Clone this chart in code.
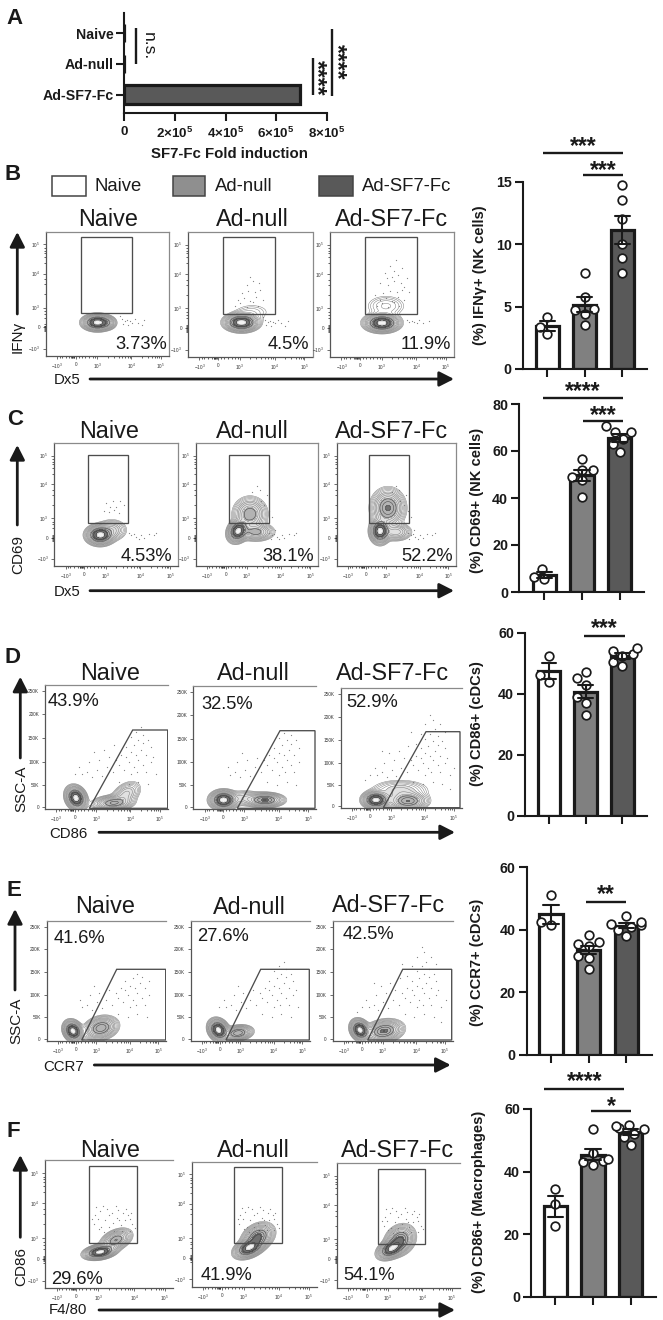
import numpy as np, pandas as pd, seaborn as sns
import matplotlib
matplotlib.use("Agg")
import matplotlib.pyplot as plt
from matplotlib.patches import Rectangle, Polygon
from matplotlib.ticker import FixedLocator

W, H = 663, 1320
GROUPS = ["Naive", "Ad-null", "Ad-SF7-Fc"]
FILLS = ["#ffffff", "#808080", "#595959"]

# Panel A
A_VALUES = [0, 0, 695000]
A_XTICKS = [0, 200000, 400000, 600000, 800000]
A_XLABELS = ["0", "2×10$^{\\mathbf{5}}$", "4×10$^{\\mathbf{5}}$", "6×10$^{\\mathbf{5}}$", "8×10$^{\\mathbf{5}}$"]

# Replicates in the bar panels
B_N, B_N2, B_S = [2.8, 3.4, 4.2], [3.5, 4.4, 4.7, 4.8, 5.8, 7.7], [7.7, 8.9, 10.0, 12.0, 13.5, 14.7]
C_N, C_N2, C_S = [5.5, 6.5, 9.8], [40.5, 47.5, 49, 52, 52, 56.5], [59.5, 63, 65, 68, 68, 70.5]
D_N, D_N2, D_S = [44, 46, 52.5], [33, 37, 39, 43, 45, 47], [49, 50.5, 52.5, 53, 54, 55]
E_N, E_N2, E_S = [41.5, 42.5, 51], [27.5, 31, 31.5, 35, 35.5, 36, 38.5], [38, 40, 41, 41.5, 42, 42.5, 44.5]
F_N, F_N2, F_S = [22.5, 29.5, 34.5], [42, 43, 43.5, 44, 46, 53.5], [48.5, 51, 52, 53.5, 54, 54.5, 55]

Y_LABELS = ["(%) IFNγ+ (NK cells)", "(%) CD69+ (NK cells)", "(%) CD86+ (cDCs)", "(%) CCR7+ (cDCs)", "(%) CD86+ (Macrophages)"]
PCT_B = ["3.73%", "4.5%", "11.9%"]
PCT_C = ["4.53%", "38.1%", "52.2%"]
PCT_D = ["43.9%", "32.5%", "52.9%"]
PCT_E = ["41.6%", "27.6%", "42.5%"]
PCT_F = ["29.6%", "41.9%", "54.1%"]

# Flow populations: centre x, centre y, sd x, sd y, correlation, weight (page pixels)
BLOBS_B = [[(97.5, 322.5, 6.6, 3.6, 0, 1), (108, 323, 4, 3, 0, .15)],
           [(241.5, 322.5, 7.6, 4, 0, 1), (252, 312, 11, 5, 0, .05)],
           [(382, 323, 7.8, 4, 0, 1), (386, 306, 11, 6, 0, .08)]]
BLOBS_C = [[(100, 535, 6.2, 4.4, 0, 1), (112, 530, 7, 5, 0, .2)],
           [(238, 531, 4.6, 5, -.2, 1), (250, 514, 7.5, 7.5, 0, .45), (256, 532, 8, 4, 0, .4)],
           [(380, 531, 4.4, 5.5, 0, 1), (388, 508, 7.5, 8.5, 0, .6), (396, 532, 7, 4, 0, .3)]]
BLOBS_D = [[(76, 798, 4.6, 5.2, .2, 1), (113, 803, 9, 3.4, -.1, .45), (126, 794, 7, 6, -.4, .2)],
           [(223.5, 800, 6, 4.2, 0, 1), (265, 800, 8.5, 3.2, 0, .6), (245, 798, 8, 4, 0, .12)],
           [(376, 800, 6, 3.8, 0, 1), (408, 801, 9, 4.2, 0, .55), (400, 790, 14, 5, 0, .15)]]
BLOBS_E = [[(73, 1031, 4.2, 4.6, .2, 1), (101, 1028, 7.5, 5.2, -.2, .55)],
           [(218.5, 1030, 4.5, 4.8, .2, 1), (238, 1033, 6.5, 3.4, -.2, .55)],
           [(360, 1030, 4.2, 4.6, .2, 1), (384, 1031, 8.5, 5, -.2, .6)]]
BLOBS_F = [[(100, 1252, 7, 3.2, -.3, 1), (116, 1240, 7, 5, -.4, .45)],
           [(249, 1248, 6.5, 4.5, -.4, 1), (258, 1237, 7, 6, -.3, .7)],
           [(391, 1249, 6, 4.5, -.4, 1), (400, 1240, 6.5, 6.5, -.2, .75)]]

# Sparse events as fractions of each gate plot
NK_TAIL = [(.62, .70), (.64, .72), (.66, .71), (.68, .72), (.70, .73), (.72, .70), (.75, .73), (.80, .71),
           (.63, .74), (.67, .75), (.60, .68), (.78, .75)]
NK_UP = [(.38, .59), (.42, .57), (.47, .60), (.52, .56), (.56, .59), (.40, .54), (.45, .53), (.50, .55),
         (.55, .52), (.60, .54), (.43, .49), (.48, .47), (.54, .48), (.58, .46), (.47, .42), (.52, .39),
         (.57, .41), (.50, .36), (.40, .41), (.60, .44), (.46, .37), (.55, .34), (.62, .37), (.52, .31),
         (.48, .27), (.58, .29), (.53, .22), (.44, .33), (.64, .48), (.36, .50)]
CD_TAIL = [(.60, .73), (.62, .75), (.64, .74), (.66, .76), (.68, .78), (.70, .75), (.72, .77), (.76, .74),
           (.80, .75), (.82, .73), (.61, .78), (.65, .71)]
CD_UP = [(.40, .55), (.44, .56), (.48, .54), (.52, .57), (.45, .52), (.50, .52), (.42, .49), (.47, .47),
         (.53, .47), (.56, .50), (.60, .55), (.46, .40), (.52, .38), (.58, .42), (.50, .35), (.62, .60)]
DIAG = [(.30, .72), (.34, .70), (.38, .74), (.42, .68), (.46, .73), (.50, .66), (.55, .70), (.60, .64),
        (.64, .68), (.68, .62), (.72, .66), (.76, .60), (.80, .64), (.70, .72), (.75, .70), (.82, .70),
        (.58, .60), (.62, .56), (.66, .58), (.70, .54), (.74, .56), (.78, .52), (.82, .56), (.86, .62),
        (.28, .66), (.36, .62), (.44, .60), (.52, .58), (.40, .54), (.60, .78), (.68, .80), (.76, .78),
        (.84, .80), (.72, .48), (.76, .44), (.80, .47), (.66, .50), (.86, .50), (.74, .38), (.80, .40),
        (.70, .42), (.84, .44), (.78, .34), (.88, .58), (.90, .72), (.24, .72), (.48, .52), (.56, .48),
        (.34, .52), (.20, .76), (.62, .46), (.90, .84), (.94, .66), (.70, .30), (.58, .36), (.82, .30),
        (.76, .26), (.66, .38), (.86, .36), (.74, .22)]
TOP = [(.38, .50), (.41, .46), (.44, .52), (.47, .47), (.50, .43), (.53, .49), (.56, .45), (.59, .51),
       (.62, .47), (.65, .43), (.68, .50), (.39, .43), (.43, .40), (.48, .38), (.52, .41), (.57, .39),
       (.61, .41), (.66, .46), (.42, .54), (.46, .56), (.60, .55), (.66, .55), (.70, .53), (.40, .37),
       (.45, .36), (.55, .36), (.63, .38), (.37, .46), (.50, .52), (.54, .55), (.67, .41), (.58, .47)]

BIEX_X = [.092, .243, .416, .695, .935]
BIEX_Y = [.10, .335, .609, .77, .94]
SCALE_Y = [.05, .237, .427, .619, .805, .984]
BIEX_XL = ["$-10^{3}$", "0", "$10^{3}$", "$10^{4}$", "$10^{5}$"]
BIEX_YL = ["$10^{5}$", "$10^{4}$", "$10^{3}$", "0", "$-10^{3}$"]
SCALE_YL = ["250K", "200K", "150K", "100K", "50K", "0"]

sns.set_theme(style="ticks")
plt.rcParams["font.family"] = ["Liberation Sans", "DejaVu Sans"]
plt.rcParams.update({"mathtext.fontset": "custom", "mathtext.rm": "Liberation Sans",
                     "mathtext.bf": "Liberation Sans:bold", "mathtext.it": "Liberation Sans:italic",
                     "axes.linewidth": 1.5, "axes.edgecolor": "#1a1a1a",
                     "xtick.color": "#1a1a1a", "ytick.color": "#1a1a1a", "text.color": "#1a1a1a"})
INK = "#1a1a1a"
fig = plt.figure(figsize=(W / 100, H / 100), dpi=100)


def ax_px(x0, y0, x1, y1, **kw):
    return fig.add_axes([x0 / W, 1 - y1 / H, (x1 - x0) / W, (y1 - y0) / H], **kw)


ov = ax_px(0, 0, W, H, zorder=20)
ov.set_xlim(0, W)
ov.set_ylim(H, 0)
ov.axis("off")
ov.patch.set_alpha(0)


def T(x, y, s, size=10, weight="normal", ha="left", va="baseline", rot=0):
    ov.text(x, y, s, fontsize=size, fontweight=weight, ha=ha, va=va, rotation=rot,
            rotation_mode="anchor", color=INK)


def L(x0, y0, x1, y1, lw=1.7):
    ov.plot([x0, x1], [y0, y1], color=INK, lw=lw, solid_capstyle="butt")


def arrow(x0, y0, x1, y1):
    ov.annotate("", xy=(x1, y1), xytext=(x0, y0),
                arrowprops=dict(arrowstyle="-|>,head_length=0.55,head_width=0.28", color=INK, lw=2,
                                shrinkA=0, shrinkB=0, mutation_scale=16))


def stars(cx, cy, s):
    T(cx, cy + 9.5, s, size=16.5, weight="bold", ha="center")


def bar_panel(rect, ticks_px, ymax, yticks, series, ylab, ylab_x, ylab_y):
    x0, ytop, x1, ybot = rect
    ax = ax_px(x0, ytop, x1, ybot)
    df = pd.DataFrame({"g": np.repeat(GROUPS, [len(s) for s in series]), "v": np.concatenate(series)})
    sns.barplot(data=df, x="g", y="v", hue="g", order=GROUPS, hue_order=GROUPS, palette=FILLS, dodge=False,
                legend=False, width=.62, errorbar="se", capsize=.4, edgecolor=INK, linewidth=2.3,
                saturation=1, err_kws={"linewidth": 1.5, "color": INK, "zorder": 6}, ax=ax)
    sns.swarmplot(data=df, x="g", y="v", order=GROUPS, color="white", edgecolor=INK, linewidth=1.25,
                  size=6.2, ax=ax, zorder=5, clip_on=False, warn_thresh=1)
    step = ticks_px[1] - ticks_px[0]
    ax.set_xlim((x0 - ticks_px[0]) / step, (x1 - ticks_px[0]) / step)
    ax.set_ylim(0, ymax)
    ax.set_yticks(yticks)
    ax.set_xticks([0, 1, 2])
    ax.set_xticklabels([])
    ax.set_xlabel("")
    ax.set_ylabel("")
    ax.tick_params(axis="y", length=6, width=1.5, pad=2, labelsize=10.3)
    ax.tick_params(axis="x", length=6, width=1.5)
    for t in ax.get_yticklabels():
        t.set_fontweight("bold")
    sns.despine(ax=ax)
    ax.patch.set_alpha(0)
    T(ylab_x, ylab_y, ylab, size=10.6, weight="bold", ha="center", va="center", rot=90)


def flow_panel(frame, blobs, gate, dots, pct, pct_xy, pct_ha, title, title_xy, scatter_axis, spines):
    x0, y0, x1, y1 = frame
    ax = ax_px(x0, y0, x1, y1, zorder=5)
    ax.set_xlim(x0, x1)
    ax.set_ylim(y1, y0)
    ax.patch.set_alpha(0)
    xx, yy = np.meshgrid(np.linspace(x0, x1, 320), np.linspace(y0, y1, 320))
    z = np.zeros_like(xx)
    for cx, cy, sx, sy, r, w in blobs:
        dx, dy = (xx - cx) / sx, (yy - cy) / sy
        z += w * np.exp(-(dx * dx - 2 * r * dx * dy + dy * dy) / (2 * (1 - r * r)))
    z /= z.max()
    ax.contourf(xx, yy, z, levels=[.10, .30, .55, .88, 1.01],
                colors=["#dcdcdc", "#a6a6a6", "#575757", "#f0f0f0"], alpha=.85)
    lv = np.geomspace(.022, .8, 13)
    ax.contour(xx, yy, z, levels=lv, colors=["#7a7a7a"] * 9 + ["#3a3a3a"] * 4, linewidths=.35)
    px = [x0 + a * (x1 - x0) for a, b in dots]
    py = [y0 + b * (y1 - y0) for a, b in dots]
    sns.scatterplot(x=px, y=py, s=.8, color="#333333", linewidth=0, alpha=.6, ax=ax, legend=False)
    ax.add_patch(Polygon(gate, closed=True, fill=False, edgecolor="#4d4d4d", lw=.95, zorder=4))
    ax.set_xlim(x0, x1)
    ax.set_ylim(y1, y0)
    w, h = x1 - x0, y1 - y0
    ax.set_xticks([x0 + f * w for f in BIEX_X])
    ax.set_xticklabels(BIEX_XL)
    ylabels = SCALE_YL if scatter_axis else BIEX_YL
    ax.set_yticks([y0 + f * h for f in (SCALE_Y if scatter_axis else BIEX_Y)])
    ax.set_yticklabels(ylabels)
    minorx = [.11, .13, .16, .19, .205, .21, .215, .22, .225, .23, .265, .29, .32, .35, .38, .40,
              .50, .55, .59, .62, .645, .665, .68, .78, .83, .865, .89, .905, .92]
    ax.xaxis.set_minor_locator(FixedLocator([x0 + f * w for f in minorx]))
    ax.tick_params(which="major", length=2, width=.5, pad=2.2, labelsize=3.4, color="#333333", labelcolor="#333333")
    ax.tick_params(which="minor", length=1.1, width=.5, color="#222222")
    if not scatter_axis:
        minory = [.745, .755, .762, .768, .775, .782, .79, .80, .69, .66, .64, .5, .42, .38, .25, .2, .17, .15, .13]
        ax.yaxis.set_minor_locator(FixedLocator([y0 + f * h for f in minory]))
    for side, sp in ax.spines.items():
        sp.set_visible(side in spines)
        sp.set_linewidth(.9)
        sp.set_color("#555555" if side in ("left", "bottom") else "#8a8a8a")
    T(pct_xy[0], pct_xy[1], pct, size=13.2, ha=pct_ha)
    T(title_xy[0], title_xy[1], title, size=16.8, ha="center")


def rect_gate(x0, y0, x1, y1):
    return [(x0, y0), (x1, y0), (x1, y1), (x0, y1)]


def diag_gate(xa, xb, xc, ytop, ybot):
    return [(xa, ybot), (xb, ytop), (xc, ytop), (xc, ybot)]


# ---------- Panel A ----------
axA = ax_px(124.3, 13, 326.7, 113.3)
sns.barplot(x=A_VALUES, y=GROUPS, order=GROUPS, color="#595959", saturation=1, orient="h", width=.6,
            edgecolor=INK, linewidth=2.3, errorbar=None, ax=axA)
axA.set_xlim(0, 800000)
axA.set_ylim(2.606, -.66)
axA.set_xticks(A_XTICKS)
axA.set_xticklabels(A_XLABELS, fontweight="bold", fontsize=9.6)
axA.tick_params(axis="y", length=6, width=1.5, pad=1.5, labelsize=10.2)
axA.tick_params(axis="x", length=6, width=1.5, pad=3)
for t in axA.get_yticklabels():
    t.set_fontweight("bold")
sns.despine(ax=axA)
T(229, 158, "SF7-Fc Fold induction", size=10.8, weight="bold", ha="center")
L(136.3, 27.7, 136.3, 64.3)
T(144, 46, "n.s.", size=12.5, ha="center", rot=-90)
L(312.7, 58.3, 312.7, 95)
L(332.3, 29.3, 332.3, 95.7)
T(309.7, 78, "****", size=16.5, weight="bold", ha="center", rot=-90)
T(330.3, 62, "****", size=16.5, weight="bold", ha="center", rot=-90)

# ---------- Legend ----------
for (bx0, bx1, tx), name, col in zip([(52, 86, 94.3), (172.5, 205, 215), (319, 353.3, 362.3)], GROUPS, FILLS):
    ov.add_patch(Rectangle((bx0, 175.7), bx1 - bx0, 20, facecolor=col if col != "#808080" else "#8f8f8f",
                           edgecolor="#444444", lw=1.1))
    T(tx, 191, name, size=13.3)

# ---------- Bar panels ----------
bar_panel((522.7, 181.7, 647, 369), (547.3, 584.7), 15, [0, 5, 10, 15], [B_N, B_N2, B_S], Y_LABELS[0], 480, 275)
bar_panel((519.3, 404, 644, 592), (544.3, 582), 80, [0, 20, 40, 60, 80], [C_N, C_N2, C_S], Y_LABELS[1], 477.5, 500)
bar_panel((525, 632.7, 646.7, 815.7), (549, 585.7), 60, [0, 20, 40, 60], [D_N, D_N2, D_S], Y_LABELS[2], 477.5, 724)
bar_panel((526.7, 867.3, 651.7, 1055), (551, 588.7), 60, [0, 20, 40, 60], [E_N, E_N2, E_S], Y_LABELS[3], 477.5, 962)
bar_panel((531, 1109, 655.7, 1296.7), (555.3, 593), 60, [0, 20, 40, 60], [F_N, F_N2, F_S], Y_LABELS[4], 479, 1202)

L(543, 153.3, 623, 153.3); stars(583.3, 143.3, "***")
L(583, 175, 623, 175); stars(603.3, 167.3, "***")
L(543.3, 398.3, 623, 398.3); stars(583, 388.3, "****")
L(583, 420.7, 623, 420.7); stars(603.3, 412.7, "***")
L(584.3, 636, 625, 636); stars(604.3, 626, "***")
L(586, 901.7, 626, 901.7); stars(606, 891.7, "**")
L(544.3, 1089.3, 624.3, 1089.3); stars(584.3, 1078.3, "****")
L(590.7, 1111.3, 631, 1111.3); stars(611, 1103.3, "*")

# ---------- Flow panels ----------
ALL4 = ("left", "bottom", "top", "right")
OPEN3 = ("left", "bottom", "top")
OPEN_F = ("left", "bottom", "top")

fr = [(46, 232, 169, 356), (188, 232, 312.5, 357), (330, 232, 454, 357)]
gt = [rect_gate(80.7, 236.7, 132, 313.3), rect_gate(223.3, 237.3, 274.7, 314.3), rect_gate(365, 237.3, 416.7, 314.3)]
dt = [NK_TAIL, NK_TAIL + NK_UP[:18], NK_TAIL[:8] + NK_UP]
px = [(166.7, 349), (309.5, 349), (450.5, 349)]
tx = [(108.5, 226.5), (252, 226.5), (392, 226.5)]
for i in range(3):
    flow_panel(fr[i], BLOBS_B[i], gt[i], dt[i], PCT_B[i], px[i], "right", GROUPS[i], tx[i], False, ALL4)

fr = [(54.3, 443.3, 178.3, 566), (196, 443.3, 318.3, 566), (336.7, 443.3, 456, 566)]
gt = [rect_gate(88, 455, 128, 523.3), rect_gate(229, 455, 268.7, 523.3), rect_gate(369.3, 455, 409.3, 523.3)]
dt = [CD_TAIL[:10] + CD_UP[:10], CD_TAIL + CD_UP[8:], CD_TAIL + CD_UP[8:]]
px = [(172.3, 560.7), (314.3, 560.7), (453.3, 560.7)]
tx = [(108.7, 438), (252.3, 438), (392, 438)]
for i in range(3):
    flow_panel(fr[i], BLOBS_C[i], gt[i], dt[i], PCT_C[i], px[i], "right", GROUPS[i], tx[i], False, ALL4)

fr = [(45, 685, 168, 809.3), (193.3, 686, 316, 809.3), (340.7, 688.3, 461.7, 808.3)]
gt = [diag_gate(89.3, 132.7, 167.7, 730, 808.3), diag_gate(237.3, 280, 315, 730.7, 808.3), diag_gate(383.3, 426, 460, 731.7, 807.7)]
dt = [DIAG[:48], DIAG[:42], DIAG]
px = [(47.7, 706), (201, 709), (346.7, 707)]
tx = [(110, 680), (253.3, 680), (393, 679.5)]
for i in range(3):
    flow_panel(fr[i], BLOBS_D[i], gt[i], dt[i], PCT_D[i], px[i], "left", GROUPS[i], tx[i], True, OPEN3)

fr = [(46.7, 920.7, 166, 1040.7), (190.7, 920.7, 310, 1040.7), (332.7, 920.7, 452.7, 1040.7)]
gt = [diag_gate(81.7, 116.7, 165.7, 969.3, 1040), diag_gate(226, 260.7, 309.3, 969.3, 1040), diag_gate(367.7, 402.7, 451.7, 969.3, 1040)]
dt = [DIAG[:38], DIAG[:46], DIAG]
px = [(54, 942.7), (196.7, 941), (342.3, 939.3)]
tx = [(105.3, 912.7), (249, 914), (388.3, 912.3)]
for i in range(3):
    flow_panel(fr[i], BLOBS_E[i], gt[i], dt[i], PCT_E[i], px[i], "left", GROUPS[i], tx[i], True, OPEN3)

fr = [(45, 1160, 173.3, 1288.3), (191.7, 1161.7, 316.7, 1286.7), (336.7, 1163.3, 460, 1287.7)]
gt = [rect_gate(88.7, 1166, 137.3, 1243.3), rect_gate(234.3, 1167.3, 281.7, 1242.7), rect_gate(378.3, 1169.3, 425.3, 1244)]
dt = [TOP, TOP, TOP]
px = [(51, 1284), (201, 1280), (343.3, 1280)]
tx = [(110, 1157), (253.3, 1157), (397.3, 1157)]
for i in range(3):
    flow_panel(fr[i], BLOBS_F[i], gt[i], dt[i], PCT_F[i], px[i], "left", GROUPS[i], tx[i], False, OPEN_F)

# ---------- Flow axis labels ----------
arrow(17.3, 314, 17.3, 232); T(22, 337, "IFNγ", size=11, ha="center", rot=90)
T(54, 384, "Dx5", size=10.8); arrow(90, 379, 454, 379)
arrow(17.3, 525, 17.3, 445); T(22, 554, "CD69", size=11, ha="center", rot=90)
T(54, 595.7, "Dx5", size=10.8); arrow(90, 590.7, 454, 590.7)
arrow(20.3, 758, 20.3, 676.7); T(25.5, 789, "SSC-A", size=11, ha="center", rot=90)
T(49, 837.7, "CD86", size=10.8); arrow(99, 832.3, 455, 832.3)
arrow(15, 990, 15, 909); T(20.5, 1021, "SSC-A", size=11, ha="center", rot=90)
T(43.3, 1070.7, "CCR7", size=10.8); arrow(94.3, 1065, 450.7, 1065)
arrow(20.3, 1237.3, 20.3, 1155); T(25.5, 1266.5, "CD86", size=11, ha="center", rot=90)
T(49, 1314, "F4/80", size=10.8); arrow(99, 1310, 455, 1310)

for s, x, y in [("A", 6, 24), ("B", 5, 180), ("C", 7, 425), ("D", 5, 663), ("E", 6.7, 895.7), ("F", 6, 1136.7)]:
    T(x, y, s, size=16, weight="bold")

fig.savefig("out.png", dpi=100)
